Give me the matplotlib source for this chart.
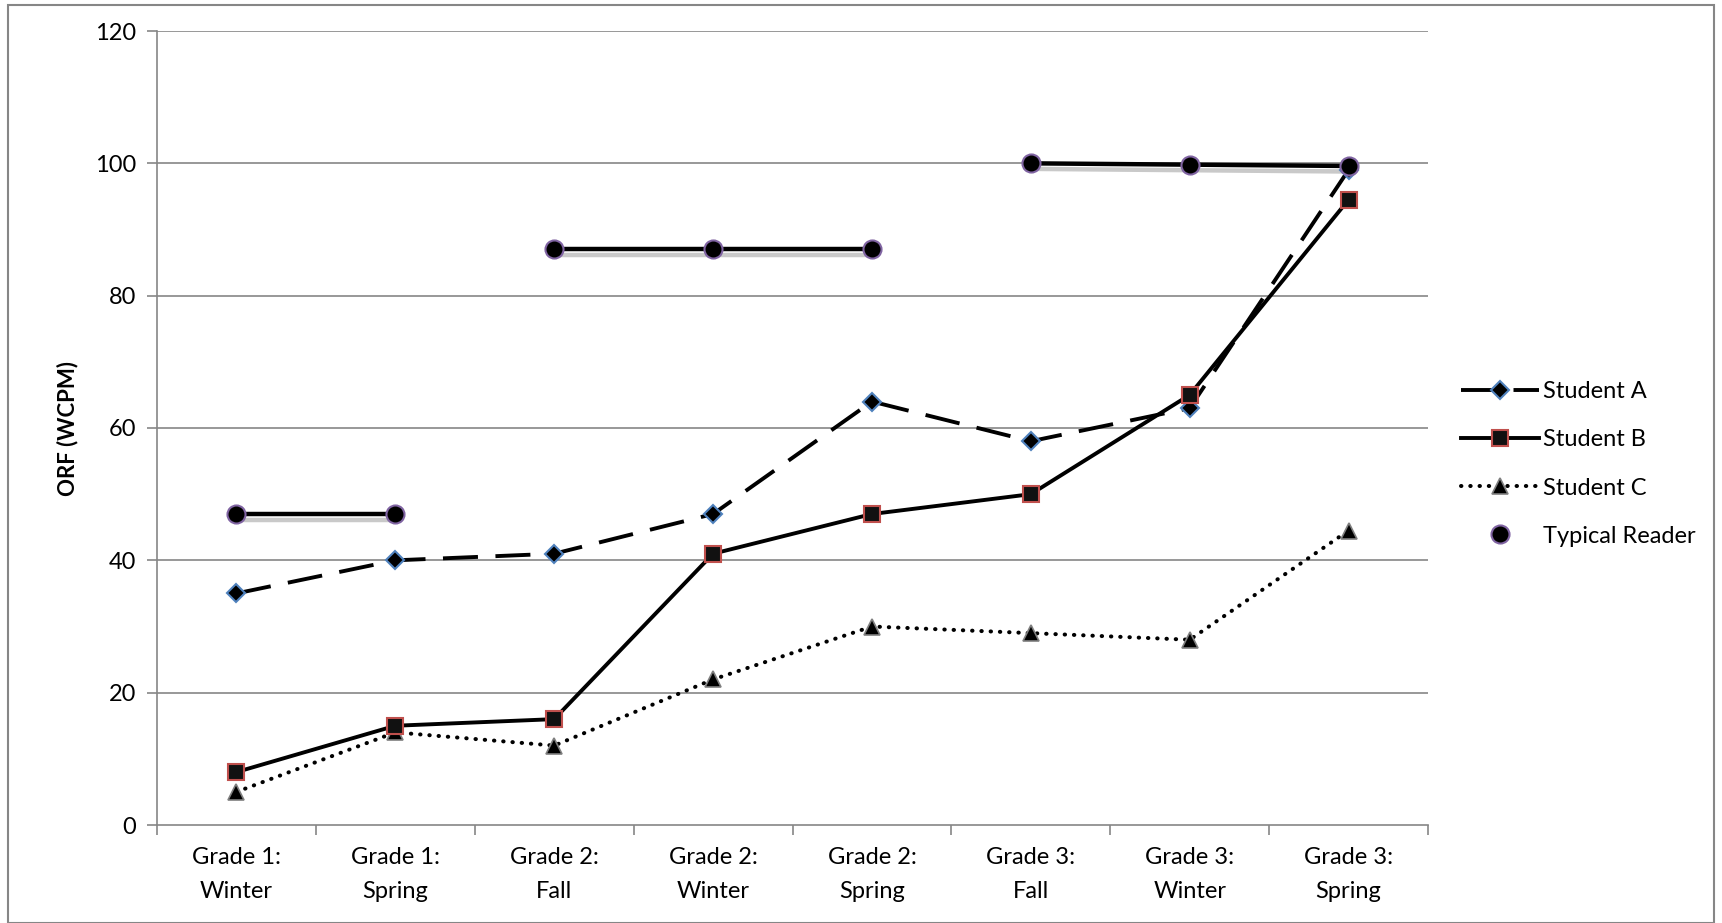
import matplotlib.pyplot as plt
import matplotlib.patheffects as pe
from matplotlib.lines import Line2D
import numpy as np

plt.rcParams['font.family'] = ['Lato', 'DejaVu Sans']

periodos = ['Grade 1:\nWinter', 'Grade 1:\nSpring', 'Grade 2:\nFall', 'Grade 2:\nWinter',
            'Grade 2:\nSpring', 'Grade 3:\nFall', 'Grade 3:\nWinter', 'Grade 3:\nSpring']
student_a = [35, 40, 41, 47, 64, 58, 63, 99]
student_b = [8, 15, 16, 41, 47, 50, 65, 94.5]
student_c = [5, 14, 12, 22, 30, 29, 28, 44.5]
typical = [47, 47, 87, 87, 87, 100, 99.8, 99.6]
# each grade's benchmark is joined only within that grade
typical_grupo = [1, 1, 2, 2, 2, 3, 3, 3]

x = np.arange(len(periodos))

fig = plt.figure(figsize=(17.22, 9.23), dpi=100)
ax = fig.add_axes([157 / 1722, 1 - 825 / 923, (1428 - 157) / 1722, (825 - 31) / 923])

gris = '#868686'
for y in range(20, 121, 20):
    ax.axhline(y, color=gris, lw=1.2, zorder=0)

# typical reader: one segment per grade, with a soft shadow
sombra = [pe.SimpleLineShadow(offset=(0, -4), shadow_color='#888888', alpha=0.45), pe.Normal()]
for g in sorted(set(typical_grupo)):
    idx = [i for i, v in enumerate(typical_grupo) if v == g]
    ax.plot(x[idx], [typical[i] for i in idx], color='black', lw=3.2,
            solid_capstyle='butt', path_effects=sombra, zorder=3)
ax.plot(x, typical, ls='none', marker='o', ms=13, mfc='black', mec='#8064A2', mew=1.5, zorder=6)

ax.plot(x, student_a, color='black', lw=2.8, dashes=(9, 4.5), marker='D', ms=9,
        mfc='black', mec='#4F81BD', mew=1.5, zorder=4)
ax.plot(x, student_b, color='black', lw=2.8, marker='s', ms=12,
        mfc='#111111', mec='#C0504D', mew=1.5, zorder=5)
ax.plot(x, student_c, color='black', lw=2.9, dashes=(0.1, 2.2), dash_capstyle='round',
        marker='^', ms=12, mfc='black', mec='#7F7F7F', mew=1.2, zorder=4)

ax.set_xlim(-0.5, len(periodos) - 0.5)
ax.set_ylim(0, 120)
ax.set_yticks(range(0, 121, 20))
ax.set_xticks(x)
ax.set_xticklabels(periodos, fontsize=17, linespacing=1.75)
ax.set_xticks(np.arange(-0.5, len(periodos), 1), minor=True)
ax.tick_params(axis='x', which='major', length=0, pad=16)
ax.tick_params(axis='x', which='minor', length=7, color=gris, width=1.2)
ax.tick_params(axis='y', length=7, color=gris, width=1.2, labelsize=17, pad=8)
for s in ['top', 'right']:
    ax.spines[s].set_visible(False)
for s in ['left', 'bottom']:
    ax.spines[s].set_color(gris)
    ax.spines[s].set_linewidth(1.2)
ax.set_ylabel('ORF (WCPM)', fontsize=16, fontweight='bold', labelpad=12)

handles = [
    Line2D([], [], color='black', lw=2.8, dashes=(9, 4.5), marker='D', ms=9, mfc='black', mec='#4F81BD', mew=1.5),
    Line2D([], [], color='black', lw=2.8, marker='s', ms=12, mfc='#111111', mec='#C0504D', mew=1.5),
    Line2D([], [], color='black', lw=2.9, dashes=(0.1, 2.2), dash_capstyle='round', marker='^', ms=12,
           mfc='black', mec='#7F7F7F', mew=1.2),
    Line2D([], [], ls='none', marker='o', ms=13, mfc='black', mec='#8064A2', mew=1.5),
]
fig.legend(handles, ['Student A', 'Student B', 'Student C', 'Typical Reader'],
           loc='center left', bbox_to_anchor=(1440 / 1722, 1 - 464 / 923), frameon=False,
           fontsize=17, handlelength=3.3, labelspacing=1.15, handletextpad=0.15)

# outer chart border
fig.patches.append(plt.Rectangle((8 / 1722, 0), 1 - 16 / 1722, 1 - 5 / 923, transform=fig.transFigure,
                                 fill=False, edgecolor=gris, lw=1.5))

plt.savefig('out.png', dpi=100)
